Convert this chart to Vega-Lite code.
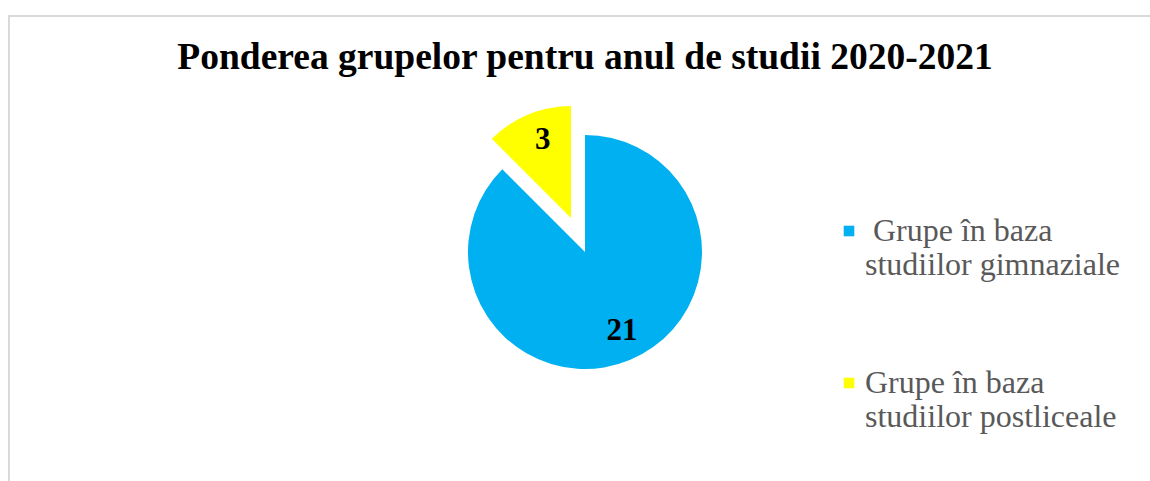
{
  "$schema": "https://vega.github.io/schema/vega-lite/v6.json",
  "autosize": {"type": "none"},
  "padding": {"left": 9, "top": 16, "right": -11, "bottom": -7},
  "width": 1152,
  "height": 472,
  "background": "white",
  "view": {"stroke": "#d9d9d9", "strokeWidth": 2, "fill": "white"},
  "config": {
    "view": {"stroke": "#d9d9d9", "strokeWidth": 2},
    "font": "Liberation Serif"
  },
  "title": {
    "text": "Ponderea grupelor pentru anul de studii 2020-2021",
    "font": "Liberation Serif",
    "fontSize": 37.5,
    "fontWeight": "bold",
    "color": "#000000",
    "anchor": "middle",
    "frame": "group",
    "baseline": "alphabetic",
    "offset": 0,
    "dy": 90
  },
  "data": {
    "values": [
      {"cat": "Grupe în baza studiilor gimnaziale", "value": 21},
      {"cat": "Grupe în baza studiilor postliceale", "value": 3}
    ]
  },
  "encoding": {
    "theta": {"field": "value", "type": "quantitative", "stack": true},
    "order": {"field": "value", "type": "quantitative", "sort": "descending"}
  },
  "layer": [
    {
      "mark": {"type": "arc", "radius": 117},
      "encoding": {
        "color": {
          "field": "cat",
          "type": "nominal",
          "sort": null,
          "scale": {"domain": ["Grupe în baza studiilor gimnaziale", "Grupe în baza studiilor postliceale"], "range": ["#00B0F0", "#FFFF00"]},
          "legend": {
            "title": null,
            "orient": "none",
            "legendX": 824,
            "legendY": 199,
            "padding": 0,
            "symbolType": "square",
            "symbolSize": 112,
            "symbolStrokeWidth": 0,
            "labelFont": "Liberation Serif",
            "labelFontSize": 32,
            "labelColor": "#595959",
            "labelLimit": 400,
            "labelOffset": 0,
            "labelBaseline": "middle",
            "rowPadding": 86,
            "labelExpr": "datum.value == 'Grupe în baza studiilor postliceale' ? ['Grupe în baza', 'studiilor postliceale'] : ['\u200b\u00a0Grupe în baza', 'studiilor gimnaziale']",
            "encode": {"labels": {"update": {"lineHeight": {"value": 32}, "dy": {"value": 16}}}}
          }
        },
        "opacity": {"condition": {"test": "datum.value == 21", "value": 1}, "value": 0}
      }
    },
    {
      "mark": {"type": "arc", "radius": 112, "xOffset": -14, "yOffset": -34},
      "encoding": {
        "color": {"field": "cat", "type": "nominal", "sort": null},
        "opacity": {"condition": {"test": "datum.value == 3", "value": 1}, "value": 0}
      }
    },
    {
      "mark": {"type": "text", "radius": 86, "xOffset": 4, "font": "Liberation Serif", "fontSize": 31, "fontWeight": "bold", "color": "#000000", "baseline": "middle", "align": "center"},
      "encoding": {
        "text": {"field": "value", "type": "quantitative"},
        "opacity": {"condition": {"test": "datum.value == 21", "value": 1}, "value": 0}
      }
    },
    {
      "mark": {"type": "text", "radius": 84, "xOffset": -10, "yOffset": -34, "font": "Liberation Serif", "fontSize": 31, "fontWeight": "bold", "color": "#000000", "baseline": "middle", "align": "center"},
      "encoding": {
        "text": {"field": "value", "type": "quantitative"},
        "opacity": {"condition": {"test": "datum.value == 3", "value": 1}, "value": 0}
      }
    }
  ]
}
